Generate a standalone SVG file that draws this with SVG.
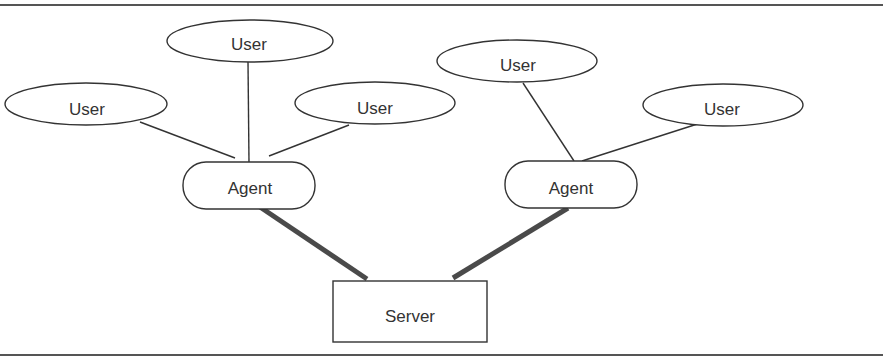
<svg xmlns="http://www.w3.org/2000/svg" width="883" height="358" viewBox="0 0 883 358">
  <style>
    .shape { fill: #ffffff; stroke: #333333; stroke-width: 1.4; }
    .label { font-family: "Liberation Sans", Arial, sans-serif; font-size: 17px; fill: #333333; text-anchor: middle; }
    .thin { stroke: #333333; stroke-width: 1.4; fill: none; }
    .thick { stroke: #4a4a4a; stroke-width: 5; fill: none; }
    .rule { stroke: #555555; stroke-width: 2; }
  </style>
  <rect width="883" height="358" fill="#ffffff"/>

  <!-- frame rules -->
  <line class="rule" x1="0" y1="5" x2="883" y2="5"/>
  <line class="rule" x1="0" y1="355" x2="883" y2="355"/>

  <!-- connectors -->
  <g id="connectors">
    <line class="thin" x1="140" y1="122" x2="235" y2="158"/>
    <line class="thin" x1="248" y1="62" x2="249" y2="163"/>
    <line class="thin" x1="269" y1="156" x2="349" y2="125"/>
    <line class="thin" x1="523" y1="83" x2="574" y2="161"/>
    <line class="thin" x1="713" y1="119" x2="582" y2="161"/>
    <line class="thick" x1="260" y1="207" x2="367" y2="279"/>
    <line class="thick" x1="453" y1="278" x2="568" y2="208"/>
  </g>

  <!-- left cluster -->
  <g id="user-left">
    <ellipse class="shape" cx="86" cy="104" rx="81" ry="21"/>
    <text class="label" x="87" y="115">User</text>
  </g>
  <g id="user-top">
    <ellipse class="shape" cx="250" cy="41" rx="83" ry="21"/>
    <text class="label" x="249" y="50">User</text>
  </g>
  <g id="user-mid">
    <ellipse class="shape" cx="375" cy="103" rx="80" ry="21"/>
    <text class="label" x="375" y="114">User</text>
  </g>
  <g id="agent-left">
    <rect class="shape" x="183" y="162" width="132" height="47" rx="23" ry="23"/>
    <text class="label" x="250" y="194">Agent</text>
  </g>

  <!-- right cluster -->
  <g id="user-right-top">
    <ellipse class="shape" cx="517" cy="61" rx="80" ry="21"/>
    <text class="label" x="518" y="71">User</text>
  </g>
  <g id="user-right">
    <ellipse class="shape" cx="723" cy="105" rx="80" ry="21"/>
    <text class="label" x="722" y="115">User</text>
  </g>
  <g id="agent-right">
    <rect class="shape" x="505" y="161" width="132" height="47" rx="23" ry="23"/>
    <text class="label" x="571" y="194">Agent</text>
  </g>

  <!-- server -->
  <g id="server">
    <rect class="shape" x="333" y="281" width="154" height="61"/>
    <text class="label" x="410" y="322">Server</text>
  </g>
</svg>
